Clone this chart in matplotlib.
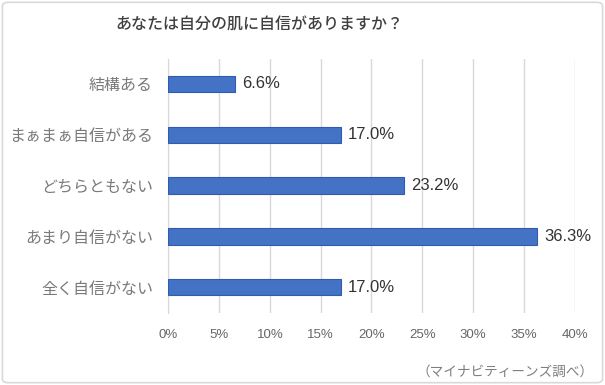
import matplotlib.pyplot as plt
from matplotlib.patches import FancyBboxPatch

plt.rcParams['font.family'] = ['Noto Sans CJK JP', 'DejaVu Sans']

# --- datos ---
categorias = ['結構ある', 'まぁまぁ自信がある', 'どちらともない', 'あまり自信がない', '全く自信がない']
valores = [6.6, 17.0, 23.2, 36.3, 17.0]
ticks_x = [0, 5, 10, 15, 20, 25, 30, 35, 40]
titulo = 'あなたは自分の肌に自信がありますか？'
fuente = '（マイナビティーンズ調べ）'

fig = plt.figure(figsize=(6.05, 3.85), dpi=100)
ax = fig.add_axes([0.278, 0.188, 0.672, 0.660])

pos = list(range(len(categorias)))
ax.barh(pos, valores, height=0.32, color='#4472C4', edgecolor='#2F5CB0', linewidth=0.8, zorder=3)

for p, v in zip(pos, valores):
    ax.text(v + 0.7, p, f'{v:.1f}%', va='center', ha='left', fontsize=12,
            color='#333333', family=['Liberation Sans', 'DejaVu Sans'], zorder=4)

ax.set_xlim(0, 40)
ax.set_ylim(len(categorias) - 0.5, -0.5)
ax.set_xticks(ticks_x)
ax.set_xticklabels([f'{t}%' for t in ticks_x], family=['Liberation Sans', 'DejaVu Sans'])
ax.set_yticks(pos)
ax.set_yticklabels(categorias)

ax.grid(axis='x', color='#D9D9D9', linewidth=1, zorder=0)
ax.tick_params(axis='x', length=0, pad=12, labelsize=9.5, labelcolor='#666666')
ax.tick_params(axis='y', length=0, pad=11, labelsize=11.5, labelcolor='#7A7A7A')
for s in ['top', 'right', 'bottom']:
    ax.spines[s].set_visible(False)
ax.spines['left'].set_color('#D9D9D9')

fig.text(0.428, 0.935, titulo, ha='center', va='center', fontsize=11.5,
         fontweight='medium', color='#404040')
fig.text(0.982, 0.035, fuente, ha='right', va='center', fontsize=9.8, color='#7F7F7F')

# marco exterior
marco = FancyBboxPatch((0.004, 0.006), 0.992, 0.988, boxstyle='round,pad=0,rounding_size=0.01',
                       transform=fig.transFigure, fill=False, edgecolor='#D9D9D9', linewidth=1.2)
fig.patches.append(marco)

fig.savefig('out.png', dpi=100)
